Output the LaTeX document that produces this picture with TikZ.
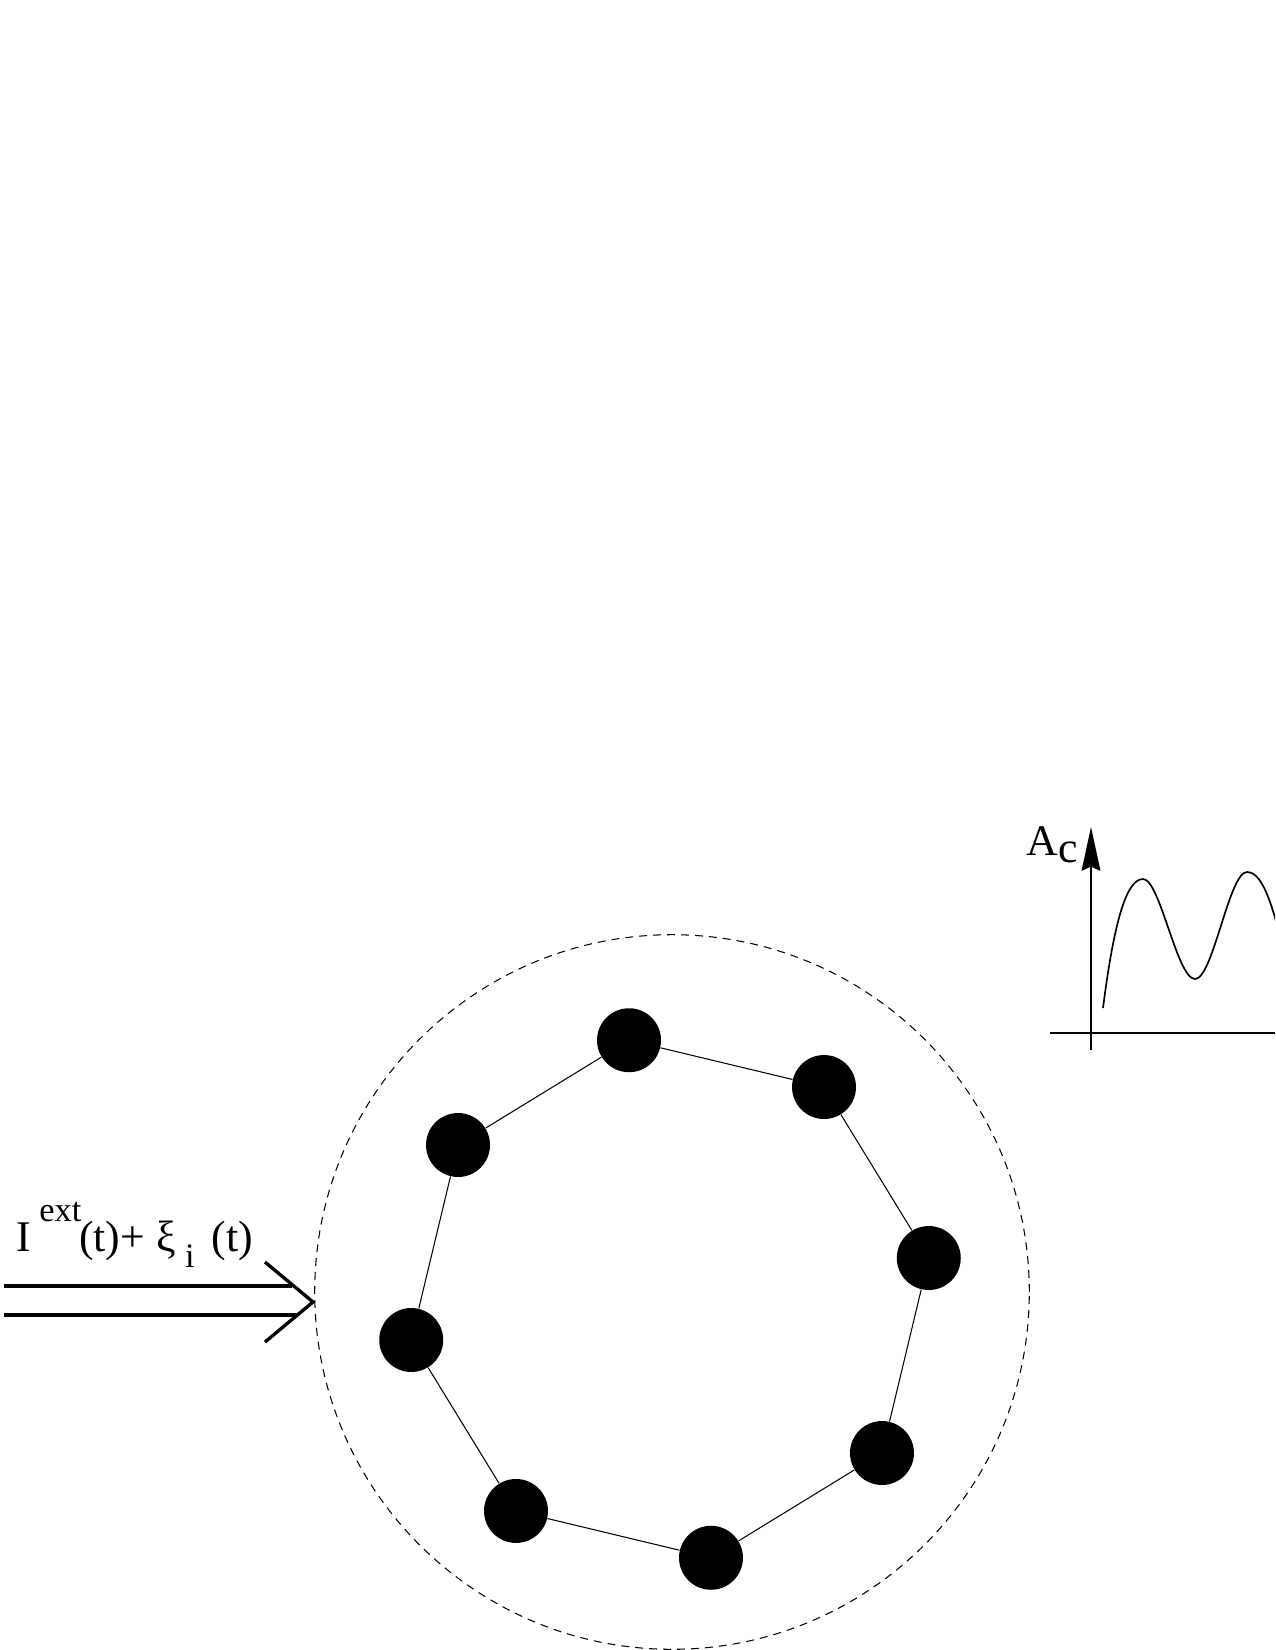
\documentclass[tikz,border=0pt]{standalone}
\usepackage{fontspec}
\setmainfont{Liberation Serif}
\usepackage{tikz}
\usetikzlibrary{arrows.meta}
\tikzstyle{cell} = [circle, fill=black, inner sep=0pt, minimum size=30.7pt]
\tikzstyle{link} = [line width=0.5pt]
\tikzstyle{ring} = [circle, draw=black, line width=0.5pt, dash pattern=on 3.8pt off 2.9pt, inner sep=0pt, minimum size=343pt]
\tikzstyle{feed} = [line width=1.6pt]
\tikzstyle{axis} = [line width=0.8pt]
\tikzstyle{lbl} = [inner sep=0pt, anchor=base west, font=\fontsize{21}{25}\selectfont]

\begin{document}
\begin{tikzpicture}[x=0.48pt, y=-0.48pt]
  \useasboundingbox (0,0) rectangle (1275,1650);
  \clip (0,0) rectangle (1275,1650);

  % Ring of cells
  \node (ring) [ring] at (672,1292) {};
  \coordinate (ctr) at (670,1299);
  \foreach \k in {1,...,8}
    \node (cell\k) [cell] at ([shift={({-144+45*\k}:262)}]ctr) {};
  \foreach \k [remember=\k as \j (initially 8)] in {1,...,8}
    \draw [link] (cell\j) -- (cell\k);

  % Input
  \coordinate (tip) at (313,1302);
  \coordinate (wingA) at (265,1262);
  \coordinate (wingB) at (265,1342);
  \coordinate (srcA) at (4,1286);
  \coordinate (endA) at (292,1286);
  \coordinate (srcB) at (4,1315);
  \coordinate (endB) at (298,1315);
  \draw [feed] (wingA) -- (tip) -- (wingB);
  \draw [feed] (srcA) -- (endA);
  \draw [feed] (srcB) -- (endB);
  \node (input) [lbl] at (16,1251) {I\hspace{4pt}\raisebox{14pt}{\fontsize{16.5}{16}\selectfont ext}\hspace{-1pt}(t)+ ξ\hspace{4.5pt}\raisebox{-8pt}{\fontsize{16.5}{16}\selectfont i}\hspace{3pt} (t)};

  % Plot
  \coordinate (yfoot) at (1091,1050);
  \coordinate (ytop) at (1091,827);
  \coordinate (xfoot) at (1050,1033);
  \coordinate (xend) at (1275,1033);
  \draw [axis, -{Stealth[length=21pt, width=9pt, inset=2pt]}] (yfoot) -- (ytop);
  \draw [axis] (xfoot) -- (xend);
  \node (ac) [lbl] at (1026,855) {A\raisebox{-3.4pt}{c}};
  \draw [axis] (1103,1008) .. controls (1113,930) and (1125,879) .. (1143,879)
    .. controls (1160,879) and (1177,979) .. (1195,979)
    .. controls (1213,979) and (1229,872) .. (1247,872)
    .. controls (1265,872) and (1275,915) .. (1290,975);

\end{tikzpicture}
\end{document}
